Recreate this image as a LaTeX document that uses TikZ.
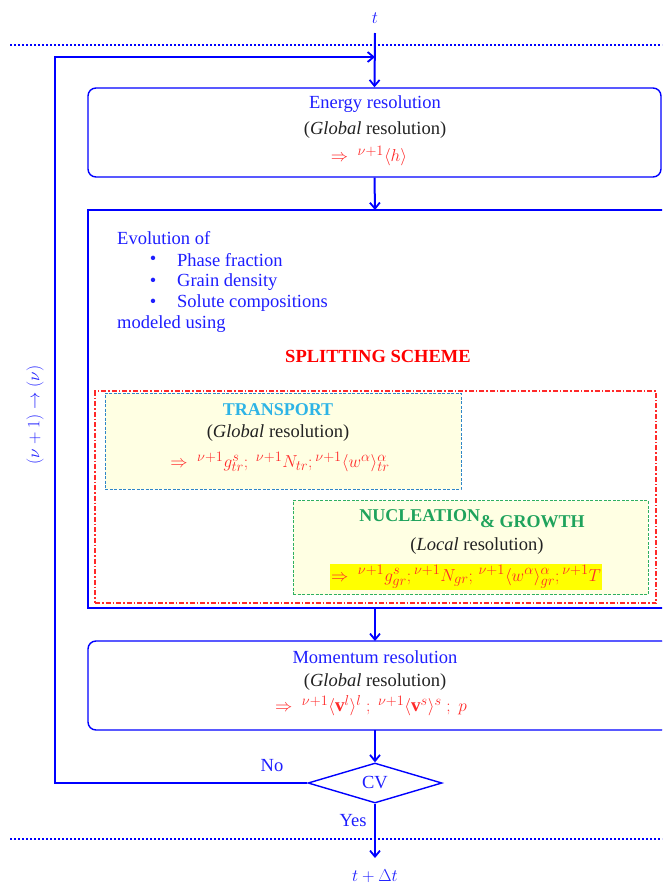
\documentclass[tikz,border=0pt]{standalone}
\usepackage{fontspec}
\setmainfont{Liberation Serif}
\usetikzlibrary{arrows.meta,shapes.geometric}
\definecolor{lineblue}{HTML}{0000FF}
\definecolor{txtblue}{HTML}{1E1EFF}
\definecolor{txtdark}{HTML}{222222}
\definecolor{fred}{HTML}{FF2A2A}
\definecolor{trblue}{HTML}{2EB4E6}
\definecolor{trborder}{HTML}{2F86C8}
\definecolor{nugreen}{HTML}{1FA35C}
\definecolor{nuborder}{HTML}{2FB060}
\definecolor{paleyellow}{HTML}{FFFFE3}
\definecolor{hlyellow}{HTML}{FFFF00}
\begin{document}
\begin{tikzpicture}[x=1pt,y=-1pt,
  every node/.style={inner sep=0pt, font=\fontsize{18.5}{22}\selectfont},
  conn/.style={draw=lineblue, line width=2pt, -{Straight Barb[length=6pt,width=10pt,line width=1.8pt]}},
  blockbox/.style={draw=lineblue, line width=1.4pt, fill=white},
  dotline/.style={draw=lineblue, line width=2.4pt, dash pattern=on 2pt off 2pt},
  bluetxt/.style={text=txtblue},
  darktxt/.style={text=txtdark},
  redtxt/.style={text=fred, font=\fontsize{19}{22}\selectfont},
  subbox/.style={line width=0.9pt, dash pattern=on 3pt off 1.5pt, fill=paleyellow}
]
\clip (0,0) rectangle (662,884);
\fill[white] (0,0) rectangle (662,884);

% dotted time lines
\draw[dotline] (10,45) -- (662,45);
\draw[dotline] (10,839) -- (662,839);

% boxes
\node[blockbox, rounded corners=8pt, minimum width=573pt, minimum height=89pt] (energy) at (374.5,132.5) {};
\node[blockbox, minimum width=582pt, minimum height=398pt] (split) at (379,409) {};
\node[draw=fred, line width=1.1pt, dash pattern=on 5pt off 2pt on 1.5pt off 2pt, minimum width=561pt, minimum height=212pt] (redbox) at (375.5,497) {};
\node[subbox, draw=trborder, minimum width=356pt, minimum height=96pt] (transport) at (283,441) {};
\node[subbox, draw=nuborder, minimum width=355pt, minimum height=94pt] (nucl) at (470.5,547.5) {};
\node[blockbox, rounded corners=8pt, minimum width=582pt, minimum height=89pt] (momentum) at (379,685.5) {};
\node[draw=lineblue, line width=1.4pt, fill=white, diamond, aspect=3.35, minimum width=134pt, minimum height=40pt] (cv) at (375,783) {};
\node[bluetxt] (cvlab) at (375,783) {CV};

% energy texts
\node[bluetxt] (en1) at (375,104) {Energy resolution};
\node[darktxt] (en2) at (375,130) {(\textit{Global} resolution)};
\node[redtxt] (en3) at (369,156) {$\Rightarrow\ {}^{\nu+1}\langle h\rangle$};

% splitting texts
\node[bluetxt, anchor=west] (ev0) at (117,238) {Evolution of};
\node[bluetxt] (b1) at (153,260) {\textbullet};
\node[bluetxt] (b2) at (153,282) {\textbullet};
\node[bluetxt] (b3) at (153,303) {\textbullet};
\node[bluetxt, anchor=west] (ev1) at (177,260) {Phase fraction};
\node[bluetxt, anchor=west] (ev2) at (177,282) {Grain density};
\node[bluetxt, anchor=west] (ev3) at (177,303) {Solute compositions};
\node[bluetxt, anchor=west] (ev4) at (117,324) {modeled using};
\node[text=red, font=\fontsize{18.5}{22}\selectfont\bfseries] (spl) at (378,356) {SPLITTING SCHEME};

% transport texts
\node[text=trblue, font=\fontsize{18}{22}\selectfont\bfseries] (tr1) at (278,410) {TRANSPORT};
\node[darktxt] (tr2) at (278,433) {(\textit{Global} resolution)};
\node[redtxt] (tr3) at (280,462) {$\Rightarrow\ {}^{\nu+1}g^{s}_{tr};\ {}^{\nu+1}N_{tr};{}^{\nu+1}\langle w^{\alpha}\rangle^{\alpha}_{tr}$};

% nucleation texts
\node[text=nugreen, font=\fontsize{18}{22}\selectfont\bfseries] (nu1) at (472,519) {NUCLEATION\raisebox{-6pt}{\& GROWTH}};
\node[darktxt] (nu2) at (477,546) {(\textit{Local} resolution)};
\node[redtxt, fill=hlyellow, inner xsep=1pt, inner ysep=2pt] (nu3) at (466,577) {$\Rightarrow\ {}^{\nu+1}g^{s}_{gr};{}^{\nu+1}N_{gr};\,{}^{\nu+1}\langle w^{\alpha}\rangle^{\alpha}_{gr};{}^{\nu+1}T$};

% momentum texts
\node[bluetxt] (mo1) at (375,657) {Momentum resolution};
\node[darktxt] (mo2) at (375,682) {(\textit{Global} resolution)};
\node[redtxt] (mo3) at (371,706) {$\Rightarrow\ {}^{\nu+1}\langle\mathbf{v}^{l}\rangle^{l}\ ;\ {}^{\nu+1}\langle\mathbf{v}^{s}\rangle^{s}\ ;\ p$};

% labels
\node[bluetxt] (tlab) at (375,18) {$t$};
\node[bluetxt] (tdlab) at (375,876) {$t+\Delta t$};
\node[bluetxt] (nolab) at (272,766) {No};
\node[bluetxt] (yeslab) at (353,821) {Yes};
\node[bluetxt, rotate=90, font=\fontsize{17}{20}\selectfont] (iterlab) at (35,415) {$(\nu+1)\rightarrow(\nu)$};

% coordinates
\coordinate (tstart) at (375,33);
\coordinate (tend) at (375,858);
\coordinate (loopcorner) at (55,783);
\coordinate (loopjoin) at (375,57);

% connectors
\draw[conn] (tstart) -- (energy.north);
\draw[conn] (energy.south) -- (375,210);
\draw[conn] (375,608) -- (375,641);
\draw[conn] (375,730) -- (cv.north);
\draw[conn] (cv.south) -- (tend);
\draw[conn] (cv.west) -- (loopcorner) |- (loopjoin);
\end{tikzpicture}
\end{document}
